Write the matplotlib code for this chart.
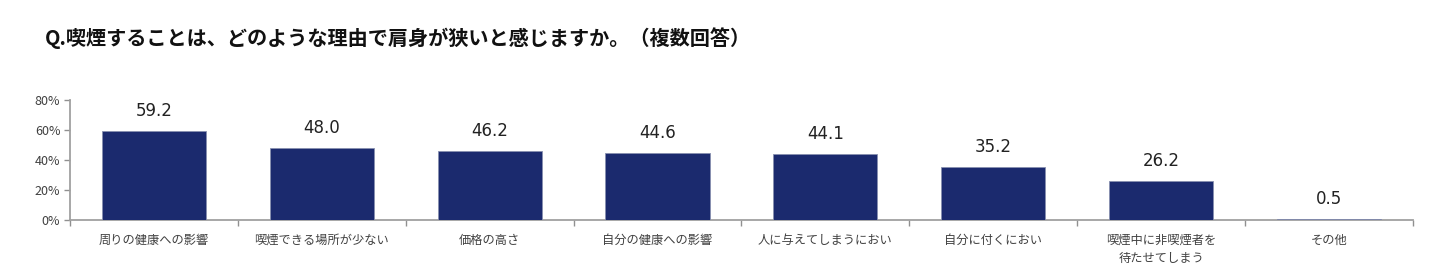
import matplotlib.pyplot as plt
from matplotlib.ticker import FixedLocator, PercentFormatter

plt.rcParams['font.family'] = ['Noto Sans CJK JP', 'DejaVu Sans']

# 理由カテゴリと回答率（%）
categories = ["周りの健康への影響", "喫煙できる場所が少ない", "価格の高さ", "自分の健康への影響",
              "人に与えてしまうにおい", "自分に付くにおい", "喫煙中に非喫煙者を\n待たせてしまう", "その他"]
values = [59.2, 48.0, 46.2, 44.6, 44.1, 35.2, 26.2, 0.5]
yticks = [0, 20, 40, 60, 80]

fig = plt.figure(figsize=(14.4, 2.8), dpi=100)
ax = fig.add_axes([0.0486, 0.214, 0.9326, 0.429])

x = list(range(len(categories)))
bars = ax.bar(x, values, width=0.62, color="#1b2a6e", edgecolor="#8890b0", linewidth=0.6, zorder=3)

for b, v in zip(bars, values):
    ax.annotate(f"{v:.1f}", (b.get_x() + b.get_width() / 2, v), xytext=(0, 8),
                textcoords="offset points", ha="center", va="bottom",
                fontsize=12, color="#222222", family=['DejaVu Sans'])

ax.set_xlim(-0.5, len(categories) - 0.5)
ax.set_ylim(0, 80)
ax.set_yticks(yticks)
ax.yaxis.set_major_formatter(PercentFormatter(decimals=0))

# カテゴリ境界に目盛り線、ラベルは中央
ax.set_xticks(x)
ax.set_xticklabels(categories, fontsize=8.8, color="#404040", linespacing=1.5)
ax.tick_params(axis="x", which="major", length=0, pad=10)
ax.xaxis.set_minor_locator(FixedLocator([i - 0.5 for i in range(len(categories) + 1)]))
ax.tick_params(axis="x", which="minor", length=4, width=1, color="#909090", direction="out")
ax.tick_params(axis="y", length=4, width=1, color="#909090", labelsize=9, labelcolor="#404040", pad=3)

for s in ["top", "right"]:
    ax.spines[s].set_visible(False)
for s in ["left", "bottom"]:
    ax.spines[s].set_color("#a0a0a0")
    ax.spines[s].set_linewidth(1.3)

fig.text(0.031, 0.865, "Q.喫煙することは、どのような理由で肩身が狭いと感じますか。（複数回答）",
         fontsize=14.5, fontweight="bold", color="#111111", ha="left", va="center")

fig.savefig("out.png", dpi=100, facecolor="white")
